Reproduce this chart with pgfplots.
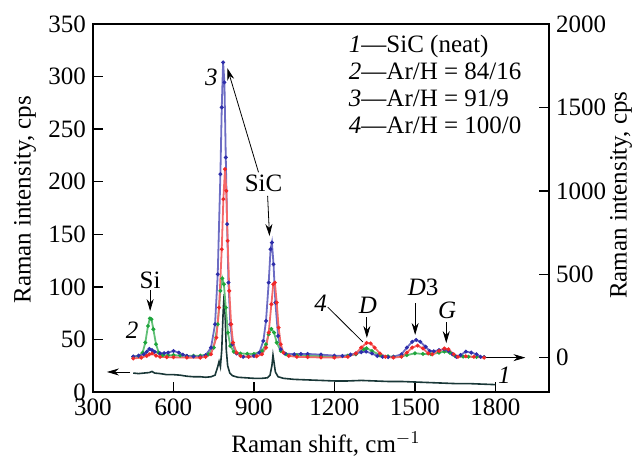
\documentclass[border=0pt]{standalone}
\usepackage{fontspec}
\setmainfont{Liberation Serif}
\usepackage{pgfplots}
\pgfplotsset{compat=1.18}
\usetikzlibrary{arrows.meta}

\definecolor{cOne}{RGB}{25,55,55}
\definecolor{cTwo}{RGB}{30,165,60}
\definecolor{cThree}{RGB}{45,45,170}
\definecolor{cFour}{RGB}{240,40,40}

\newcommand\fnt{\fontsize{12.5}{14}\selectfont}

\pgfplotsset{
  base/.style={
    at={(46.5pt,-196pt)}, anchor=south west,
    width=228pt, height=184pt, scale only axis,
    xmin=300, xmax=2000,
    tick align=inside, major tick length=5pt,
    axis line style={line width=0.7pt}, every tick/.style={line width=0.7pt, black},
    tick label style={font=\fnt},
    clip=false,
  },
  spec/.style={mark=*, mark size=0.45pt, line width=0.9pt},
}

\begin{document}
\begin{tikzpicture}
% left axis, curve 1
\begin{axis}[base,
  ymin=0, ymax=350, ytick={0,50,...,350},
  yticklabels={0,50,100,150,200,250,300,350},
  xtick={300,600,...,1800},
  xticklabels={300,600,900,1200,1500,1800},
  xtick pos=left, ytick pos=left,
  ylabel={Raman intensity, cps},
  xlabel={Raman shift, cm$^{-1}$},
  every axis y label/.style={at={(axis description cs:-0.149,0.522)}, rotate=90, anchor=center, font=\fnt},
  every axis x label/.style={at={(axis description cs:0.511,-0.141)}, anchor=center, font=\fnt},
]
\addplot[cOne, line width=0.8pt] coordinates {
(450,18) (470,17.5) (490,18) (510,18.5) (520,19.5) (530,18) (550,17.5) (575,16.5) (600,16.5)
(625,16) (650,15) (675,14.5) (700,14.5) (720,14) (740,14.5) (755,16) (765,24) (770,29)
(775,24) (780,40) (785,75) (789,93) (793,70) (797,40) (802,25) (810,18) (820,15.5) (840,14)
(870,13.5) (900,13) (930,13) (950,13.5) (960,16) (967,25) (971,35) (975,28) (980,19) (990,14.5)
(1010,13) (1050,12) (1100,11.5) (1150,11) (1200,10.5) (1250,10.5) (1300,11) (1350,10.5)
(1400,10) (1450,10) (1500,9.5) (1550,9) (1600,8.5) (1650,8) (1700,8) (1750,7.5) (1800,7)
};
\end{axis}
% right axis, curves 2-4
\begin{axis}[base,
  ymin=-206, ymax=2000, ytick={0,500,...,2000},
  yticklabels={0,500,1000,1500,2000},
  axis x line=none, axis y line*=right,
  ylabel={Raman intensity, cps},
  every axis y label/.style={at={(axis description cs:1.158,0.535)}, rotate=90, anchor=center, font=\fnt},
]
\addplot[spec, color=cTwo!70!white, mark options={cTwo}] coordinates {
(450,5) (470,10) (485,30) (495,90) (505,190) (512,235) (518,230) (525,170) (535,80) (545,30)
(560,15) (580,14) (600,15) (625,12) (650,10) (675,11) (700,12) (730,20) (750,60) (765,200)
(775,400) (782,475) (788,440) (795,300) (803,150) (812,70) (825,35) (850,25) (875,23) (900,22)
(930,40) (945,80) (955,140) (965,172) (975,150) (985,90) (1000,40) (1020,20) (1060,14)
(1100,10) (1150,9) (1200,8) (1250,12) (1280,20) (1310,50) (1320,56) (1340,40) (1370,15)
(1400,8) (1420,5) (1450,8) (1470,15) (1500,26) (1530,22) (1560,20) (1590,30) (1610,36)
(1630,30) (1650,10) (1680,6) (1700,5) (1730,4) (1758,3)
};
\addplot[spec, color=cThree!70!white, mark options={cThree}] coordinates {
(450,6) (470,12) (490,20) (500,35) (510,52) (520,45) (530,35) (550,25) (565,27) (580,30)
(600,40) (620,30) (635,18) (650,10) (675,7) (700,5) (720,15) (740,60) (755,200) (765,500)
(775,1100) (780,1500) (785,1770) (790,1650) (795,1200) (800,800) (805,450) (812,200)
(820,80) (835,25) (860,5) (880,6) (900,10) (920,30) (935,100) (945,220) (955,450) (962,650)
(967,690) (973,560) (980,330) (990,130) (1000,50) (1015,25) (1050,20) (1075,22) (1100,22)
(1150,18) (1200,12) (1230,10) (1260,18) (1280,25) (1300,33) (1318,36) (1340,25) (1360,10)
(1380,5) (1400,3) (1420,5) (1450,20) (1470,60) (1490,95) (1505,106) (1520,95) (1540,65)
(1555,40) (1570,38) (1590,45) (1610,50) (1625,40) (1640,20) (1655,5) (1670,15) (1690,36)
(1710,30) (1730,20) (1745,5) (1758,3)
};
\addplot[spec, color=cFour!70!white, mark options={cFour}] coordinates {
(450,-5) (480,0) (500,10) (510,20) (520,25) (535,12) (550,5) (575,3) (600,2) (650,0) (700,0)
(720,5) (740,20) (760,120) (770,300) (780,650) (786,950) (792,1130) (797,1000) (802,700)
(808,400) (815,200) (822,90) (835,30) (850,10) (880,5) (910,8) (930,20) (945,60) (955,150)
(965,320) (972,440) (978,450) (985,330) (992,180) (1000,80) (1010,30) (1030,10) (1060,5)
(1100,3) (1150,1) (1200,0) (1250,5) (1280,25) (1300,60) (1320,88) (1335,85) (1350,60)
(1370,25) (1390,5) (1420,0) (1450,5) (1470,30) (1490,60) (1510,72) (1530,55) (1550,25)
(1565,20) (1590,40) (1610,55) (1625,50) (1645,20) (1660,5) (1690,8) (1720,5) (1758,0)
};
% annotations
\begin{scope}[font=\fnt, >={Stealth[length=6pt,width=3.5pt]}]
\node at (axis cs:513,465) {Si};
\draw[->] (axis cs:513,405) -- (axis cs:513,279);
\node at (axis cs:446,165) {\textit{2}};
\node at (axis cs:741,1682) {\textit{3}};
\node at (axis cs:936,1046) {SiC};
\draw[->] (axis cs:917,1111) -- (axis cs:801,1735);
\draw[->] (axis cs:951,969) -- (axis cs:958,729);
\node at (axis cs:1149,327) {\textit{4}};
\draw (axis cs:1175,303) -- (axis cs:1306,94);
\node at (axis cs:1325,315) {\textit{D}};
\draw[->] (axis cs:1321,243) -- (axis cs:1321,118);
\node at (axis cs:1531,423) {\textit{D}3};
\draw[->] (axis cs:1501,327) -- (axis cs:1501,136);
\node at (axis cs:1620,285) {\textit{G}};
\draw[->] (axis cs:1617,213) -- (axis cs:1617,87);
\draw[->] (axis cs:1766,0) -- (axis cs:1912,0);
\draw[->] (axis cs:438,-86) -- (axis cs:352,-86);
\node at (axis cs:1834,-104) {\textit{1}};
\node[anchor=base west] at (axis cs:1228,1832) {\textit{1}—SiC (neat)};
\node[anchor=base west] at (axis cs:1228,1670) {\textit{2}—Ar/H = 84/16};
\node[anchor=base west] at (axis cs:1228,1508) {\textit{3}—Ar/H = 91/9};
\node[anchor=base west] at (axis cs:1228,1346) {\textit{4}—Ar/H = 100/0};
\end{scope}
\end{axis}
\pgfresetboundingbox
\path (0,0) rectangle (319pt,-229pt);
\end{tikzpicture}
\end{document}
